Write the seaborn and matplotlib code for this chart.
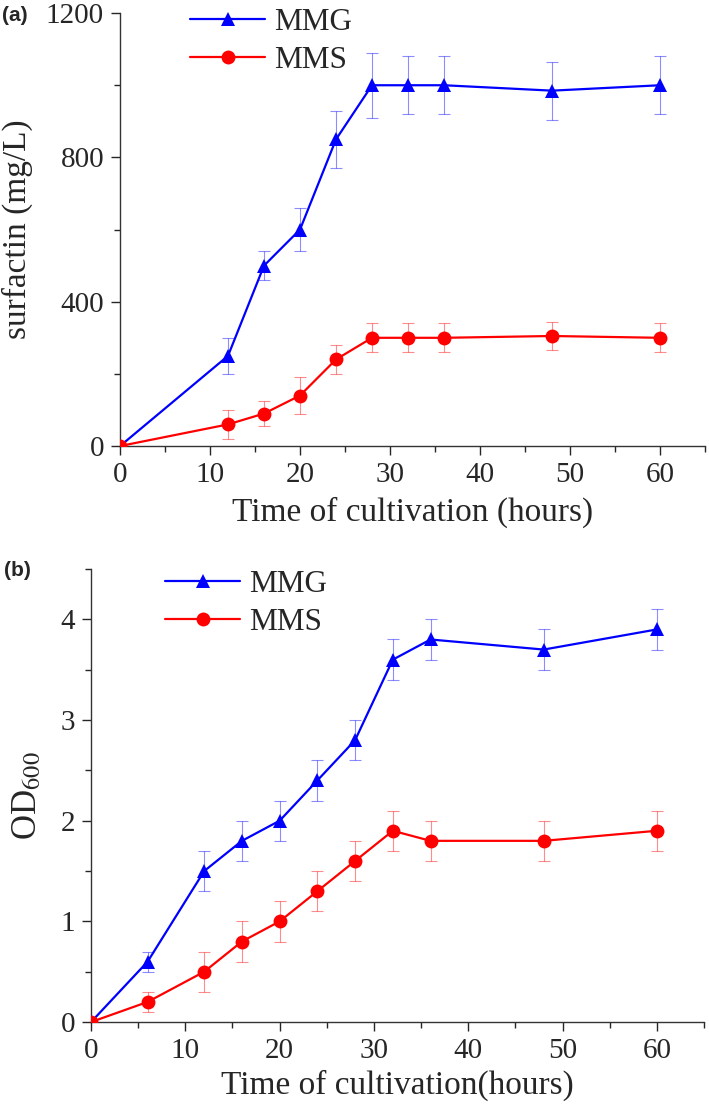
import numpy as np
import pandas as pd
import matplotlib
matplotlib.use("Agg")
import matplotlib.pyplot as plt
from matplotlib.ticker import MultipleLocator
import seaborn as sns

# === Data ===
time_a = [0, 12, 16, 20, 24, 28, 32, 36, 48, 60]
mmg_surfactin = [0, 250, 500, 600, 850, 1000, 1000, 1000, 985, 1000]
mmg_surfactin_err = [0, 50, 40, 60, 80, 90, 80, 80, 80, 80]
mms_surfactin = [0, 60, 90, 140, 240, 300, 300, 300, 305, 300]
mms_surfactin_err = [0, 40, 35, 50, 40, 40, 40, 40, 40, 40]

time_b = [0, 6, 12, 16, 20, 24, 28, 32, 36, 48, 60]
mmg_od = [0, 0.6, 1.5, 1.8, 2.0, 2.4, 2.8, 3.6, 3.8, 3.7, 3.9]
mmg_od_err = [0, 0.1, 0.2, 0.2, 0.2, 0.2, 0.2, 0.2, 0.2, 0.2, 0.2]
mms_od = [0, 0.2, 0.5, 0.8, 1.0, 1.3, 1.6, 1.9, 1.8, 1.8, 1.9]
mms_od_err = [0, 0.1, 0.2, 0.2, 0.2, 0.2, 0.2, 0.2, 0.2, 0.2, 0.2]

colors = {"MMG": "#0000ff", "MMS": "#ff0000"}
markers = {"MMG": "^", "MMS": "o"}

sns.set_theme(style="ticks")
plt.rcParams["font.family"] = ["Liberation Serif", "DejaVu Serif"]
plt.rcParams["mathtext.fontset"] = "stix"


def build_df(t, g, s):
    return pd.DataFrame({
        "time": list(t) + list(t),
        "value": list(g) + list(s),
        "medium": ["MMG"] * len(t) + ["MMS"] * len(t),
    })


def draw_panel(ax, t, g, g_err, s, s_err):
    df = build_df(t, g, s)
    for med, vals, errs in [("MMG", g, g_err), ("MMS", s, s_err)]:
        ax.errorbar(t, vals, yerr=errs, fmt="none", ecolor=colors[med],
                    elinewidth=0.8, capsize=4, capthick=0.8, alpha=0.45, zorder=1)
    sns.lineplot(data=df, x="time", y="value", hue="medium", style="medium",
                 palette=colors, markers=markers, dashes=False, markersize=10,
                 markeredgewidth=0, linewidth=1.6, ax=ax, zorder=3)
    sns.despine(ax=ax)
    ax.set_xlim(0, 65)
    ax.xaxis.set_major_locator(MultipleLocator(10))
    ax.xaxis.set_minor_locator(MultipleLocator(5))
    ax.tick_params(which="major", length=6.5, width=1, labelsize=21, pad=5,
                   direction="out")
    ax.tick_params(which="minor", length=4.3, width=1, direction="out")
    for side in ["left", "bottom"]:
        ax.spines[side].set_linewidth(1.0)
        ax.spines[side].set_color("#333333")
    ax.legend(loc="upper left", frameon=False, fontsize=22.5,
              handlelength=2.4, handletextpad=0.3, labelspacing=0.3,
              borderaxespad=0.0, borderpad=0.0)


fig = plt.figure(figsize=(7.09, 11.09), dpi=100)

# === Panel (a) ===
ax1 = fig.add_axes([0.1693, 0.5978, 0.825, 0.3904])
draw_panel(ax1, time_a, mmg_surfactin, mmg_surfactin_err, mms_surfactin, mms_surfactin_err)
ax1.set_ylim(0, 1200)
ax1.yaxis.set_major_locator(MultipleLocator(400))
ax1.yaxis.set_minor_locator(MultipleLocator(200))
ax1.set_xlabel("Time of cultivation (hours)", fontsize=24, labelpad=6)
ax1.set_ylabel("surfactin (mg/L)", fontsize=24, labelpad=9)
ax1.legend_.set_bbox_to_anchor((0.12, 1.012))

# === Panel (b) ===
ax2 = fig.add_axes([0.1284, 0.0784, 0.8646, 0.4085])
draw_panel(ax2, time_b, mmg_od, mmg_od_err, mms_od, mms_od_err)
ax2.set_ylim(0, 4.5)
ax2.yaxis.set_major_locator(MultipleLocator(1))
ax2.yaxis.set_minor_locator(MultipleLocator(0.5))
ax2.set_xlabel("Time of cultivation(hours)", fontsize=24, labelpad=4)
ax2.set_ylabel("OD$_{600}$", fontsize=25, labelpad=12)
ax2.legend_.set_bbox_to_anchor((0.121, 0.998))

# === Panel labels ===
fig.text(0.003, 0.9856, "(a)", fontsize=15, fontweight="bold",
         family=["Liberation Sans", "DejaVu Sans"], va="center")
fig.text(0.006, 0.486, "(b)", fontsize=15, fontweight="bold",
         family=["Liberation Sans", "DejaVu Sans"], va="center")

fig.savefig("out.png", dpi=100)
